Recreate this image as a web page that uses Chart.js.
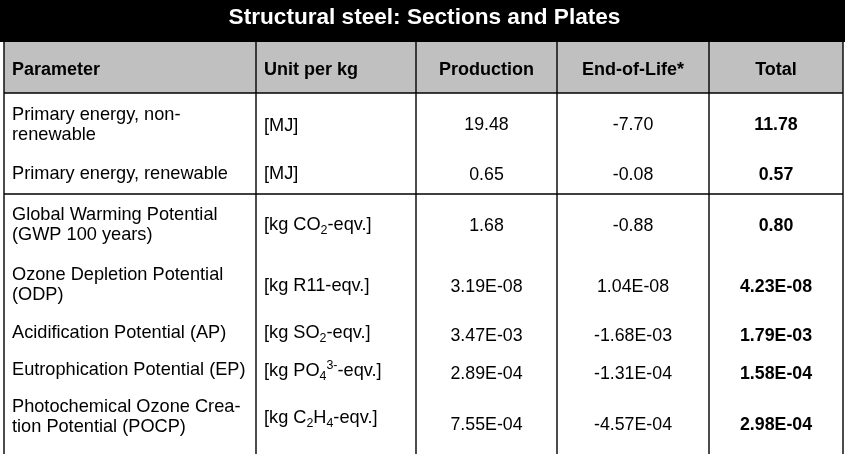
<!DOCTYPE html>
<html>
<head>
<meta charset="utf-8">
<script src="https://cdn.jsdelivr.net/npm/chart.js@4/dist/chart.umd.min.js"></script>
<style>
  html, body { margin: 0; padding: 0; background: #ffffff; }
  canvas { display: block; }
</style>
</head>
<body>
<canvas id="c" width="847" height="454"></canvas>
<script>
// ---------- DATA ----------
const title = "Structural steel: Sections and Plates";
const headers = ["Parameter", "Unit per kg", "Production", "End-of-Life*", "Total"];
const parameters = [
  ["Primary energy, non-", "renewable"],
  ["Primary energy, renewable"],
  ["Global Warming Potential", "(GWP 100 years)"],
  ["Ozone Depletion Potential", "(ODP)"],
  ["Acidification Potential (AP)"],
  ["Eutrophication Potential (EP)"],
  ["Photochemical Ozone Crea-", "tion Potential (POCP)"]
];
const units = [
  "[MJ]",
  "[MJ]",
  "[kg CO{_2}-eqv.]",
  "[kg R11-eqv.]",
  "[kg SO{_2}-eqv.]",
  "[kg PO{_4}{^3-}-eqv.]",
  "[kg C{_2}H{_4}-eqv.]"
];
const production = [19.48, 0.65, 1.68, 3.19e-8, 3.47e-3, 2.89e-4, 7.55e-4];
const endOfLife  = [-7.70, -0.08, -0.88, 1.04e-8, -1.68e-3, -1.31e-4, -4.57e-4];
const total      = [11.78, 0.57, 0.80, 4.23e-8, 1.79e-3, 1.58e-4, 2.98e-4];

// ---------- LAYOUT (positions in reference units, mapped through chart scales) ----------
const layout = {
  width: 847, height: 454,
  colEdges: [4, 256, 416, 557, 709, 843],
  titleBar: { x0: 0, x1: 845, y0: 0, y1: 42, baseline: 24 },
  header: { y0: 42, y1: 93, baseline: 75 },
  hLines: [93, 194],
  textPad: 8,
  lineHeight: 20,
  // per row: first label baseline, unit baseline, value baseline
  rows: [
    { label: 120, unit: 131, value: 130 },
    { label: 179, unit: 179, value: 180 },
    { label: 220, unit: 230, value: 231 },
    { label: 280, unit: 291, value: 292 },
    { label: 338, unit: 338, value: 341 },
    { label: 375, unit: 376, value: 379 },
    { label: 412, unit: 423, value: 430 }
  ]
};
const FONT = "'Liberation Sans', Arial, sans-serif";
const styles = {
  titleFont: "bold 22.6px " + FONT,
  headerFont: "bold 18px " + FONT,
  labelSize: 18.2,
  valueSize: 17.8,
  headerFill: "#c0c0c0",
  titleFill: "#000000",
  lineColor: "#000000",
  textColor: "#000000"
};

function fmt(v) {
  if (v === 0 || Math.abs(v) >= 0.01) return v.toFixed(2);
  const s = v.toExponential(2); // e.g. 3.19e-8
  const m = s.match(/^(-?[\d.]+)e([+-])(\d+)$/);
  return m[1] + "E" + m[2] + m[3].padStart(2, "0");
}

function parseRich(text) {
  const out = [];
  const re = /\{([_^])([^}]*)\}/g;
  let last = 0, m;
  while ((m = re.exec(text)) !== null) {
    if (m.index > last) out.push({ t: text.slice(last, m.index), k: "n" });
    out.push({ t: m[2], k: m[1] === "_" ? "sub" : "sup" });
    last = re.lastIndex;
  }
  if (last < text.length) out.push({ t: text.slice(last), k: "n" });
  return out;
}

function drawRich(ctx, text, x, y, size, bold, align) {
  const segs = parseRich(text);
  const w = bold ? "bold " : "";
  const fontFor = k => w + (k === "n" ? size : size * 0.68).toFixed(2) + "px " + FONT;
  let totalW = 0;
  segs.forEach(s => { ctx.font = fontFor(s.k); s.w = ctx.measureText(s.t).width; totalW += s.w; });
  let cx = align === "center" ? x - totalW / 2 : x;
  ctx.textAlign = "left";
  segs.forEach(s => {
    ctx.font = fontFor(s.k);
    let dy = 0;
    if (s.k === "sub") dy = size * 0.2;
    if (s.k === "sup") dy = -size * 0.4;
    ctx.fillText(s.t, cx, y + dy);
    cx += s.w;
  });
}

const tablePlugin = {
  id: "tablePlugin",
  afterDraw(chart) {
    const ctx = chart.ctx;
    const X = v => chart.scales.x.getPixelForValue(v);
    const Y = v => chart.scales.y.getPixelForValue(v);
    const L = layout;
    const E = L.colEdges;
    ctx.save();
    ctx.textBaseline = "alphabetic";

    // title bar
    ctx.fillStyle = styles.titleFill;
    ctx.fillRect(X(L.titleBar.x0), Y(L.titleBar.y0), X(L.titleBar.x1) - X(L.titleBar.x0), Y(L.titleBar.y1) - Y(L.titleBar.y0));
    ctx.fillStyle = "#ffffff";
    ctx.font = styles.titleFont;
    ctx.textAlign = "center";
    ctx.fillText(title, (X(E[0]) + X(E[E.length - 1])) / 2 + 1, Y(L.titleBar.baseline));

    // header fill
    ctx.fillStyle = styles.headerFill;
    ctx.fillRect(X(E[0]), Y(L.header.y0), X(E[E.length - 1]) - X(E[0]), Y(L.header.y1) - Y(L.header.y0));

    // grid lines
    ctx.strokeStyle = styles.lineColor;
    ctx.lineWidth = 1.4;
    E.forEach(e => {
      ctx.beginPath();
      ctx.moveTo(X(e), Y(L.header.y0));
      ctx.lineTo(X(e), Y(L.height));
      ctx.stroke();
    });
    L.hLines.forEach(h => {
      ctx.beginPath();
      ctx.moveTo(X(E[0]), Y(h));
      ctx.lineTo(X(E[E.length - 1]), Y(h));
      ctx.stroke();
    });

    // headers
    ctx.fillStyle = styles.textColor;
    ctx.font = styles.headerFont;
    headers.forEach((h, i) => {
      if (i < 2) {
        ctx.textAlign = "left";
        ctx.fillText(h, X(E[i] + L.textPad), Y(L.header.baseline));
      } else {
        ctx.textAlign = "center";
        ctx.fillText(h, X((E[i] + E[i + 1]) / 2), Y(L.header.baseline));
      }
    });

    // body
    const valueCols = [production, endOfLife, total];
    parameters.forEach((lines, r) => {
      const row = L.rows[r];
      ctx.font = styles.labelSize + "px " + FONT;
      ctx.textAlign = "left";
      lines.forEach((ln, k) => {
        ctx.fillText(ln, X(E[0] + L.textPad), Y(row.label + k * L.lineHeight));
      });
      drawRich(ctx, units[r], X(E[1] + L.textPad), Y(row.unit), styles.labelSize, false, "left");
      valueCols.forEach((arr, c) => {
        ctx.font = (c === 2 ? "bold " : "") + styles.valueSize + "px " + FONT;
        ctx.textAlign = "center";
        ctx.fillText(fmt(arr[r]), X((E[c + 2] + E[c + 3]) / 2), Y(row.value));
      });
    });
    ctx.restore();
  }
};

new Chart(document.getElementById("c"), {
  type: "scatter",
  data: { datasets: [{ data: [], pointRadius: 0 }] },
  options: {
    responsive: false,
    animation: false,
    devicePixelRatio: 1,
    layout: { padding: 0 },
    plugins: { legend: { display: false }, tooltip: { enabled: false }, title: { display: false } },
    scales: {
      x: { type: "linear", display: false, min: 0, max: layout.width },
      y: { type: "linear", display: false, min: 0, max: layout.height, reverse: true }
    }
  },
  plugins: [tablePlugin]
});
</script>
</body>
</html>
